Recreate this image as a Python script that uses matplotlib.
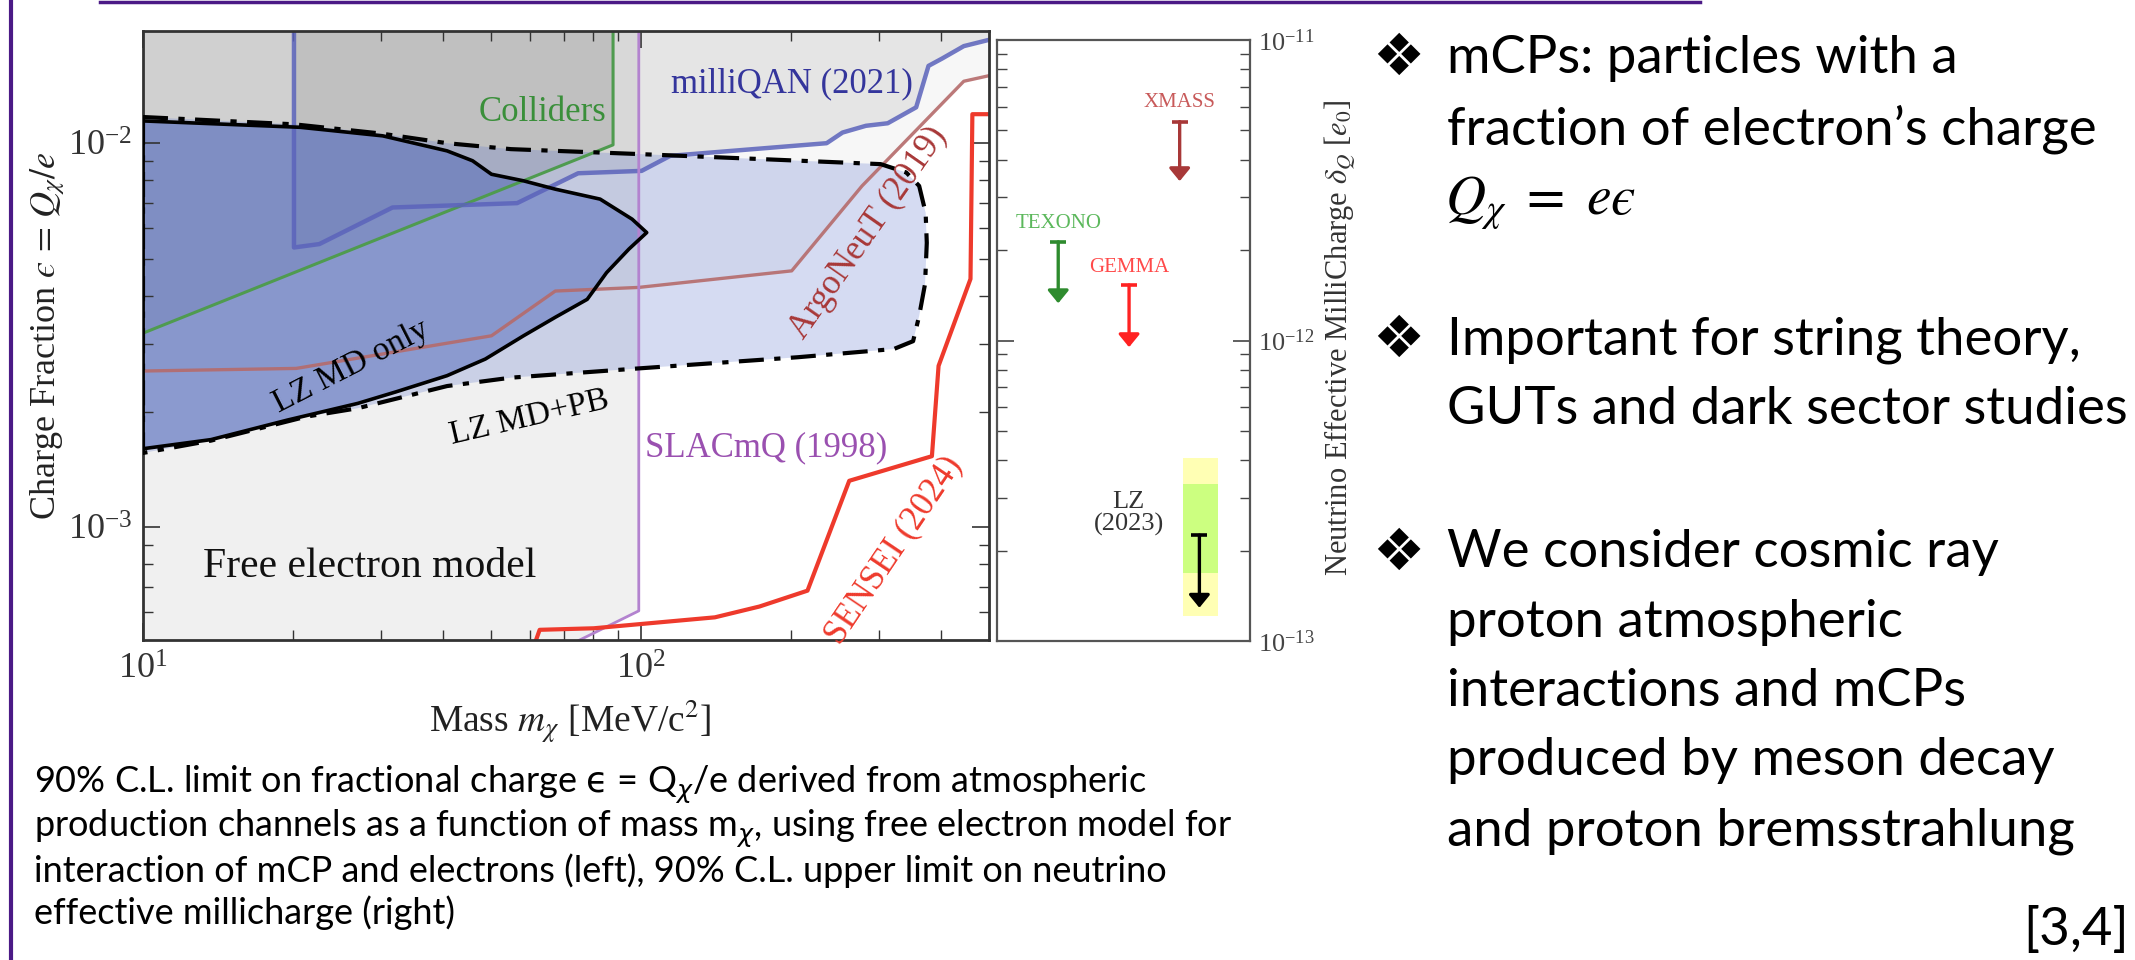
import matplotlib.pyplot as plt
from matplotlib.ticker import LogLocator, NullFormatter

plt.rcParams['mathtext.fontset'] = 'stix'
plt.rcParams['font.family'] = ['Liberation Serif', 'DejaVu Serif']

W, H = 2135, 960

# ---------------- left panel data: mass [MeV] vs charge fraction ----------------
coll_m = [10, 87.9, 87.9]
coll_eps = [3.2e-3, 9.9e-3, 3e-2]

mq_m = [20.1, 20.1, 22.6, 31.7, 56.4, 74.8, 100.3, 114.5, 236, 254, 283, 313, 357, 378, 402, 445, 501]
mq_eps = [3e-2, 5.35e-3, 5.46e-3, 6.8e-3, 6.98e-3, 8.35e-3, 8.47e-3, 9.27e-3, 1.0e-2, 1.066e-2,
          1.11e-2, 1.127e-2, 1.24e-2, 1.59e-2, 1.66e-2, 1.79e-2, 1.86e-2]

argo_m = [10, 20.3, 50.1, 67.3, 98.9, 200.8, 278, 445, 501]
argo_eps = [2.55e-3, 2.59e-3, 3.15e-3, 4.12e-3, 4.21e-3, 4.65e-3, 7.74e-3, 1.45e-2, 1.5e-2]

slac_m = [99, 99, 73.5]
slac_eps = [3e-2, 6.05e-4, 5.0e-4]

sensei_m = [61.3, 62.6, 80.4, 140.8, 173, 216, 262, 384, 396, 459, 463, 520]
sensei_eps = [5.0e-4, 5.4e-4, 5.45e-4, 5.82e-4, 6.21e-4, 6.83e-4, 1.32e-3, 1.53e-3,
              2.63e-3, 4.43e-3, 1.19e-2, 1.19e-2]

# LZ MD only (closed contour)
md_m = [10, 20.7, 30.3, 40.8, 45.9, 50.1, 58.1, 67.3, 82.8, 96, 102.7, 94.6, 85.3, 78,
        67.3, 58.1, 48.7, 40.8, 32.2, 27, 19.5, 13.7, 10]
md_eps = [1.143e-2, 1.10e-2, 1.045e-2, 9.55e-3, 9.0e-3, 8.3e-3, 7.98e-3, 7.59e-3, 7.15e-3,
          6.34e-3, 5.85e-3, 5.3e-3, 4.6e-3, 3.92e-3, 3.52e-3, 3.15e-3, 2.74e-3, 2.48e-3,
          2.25e-3, 2.10e-3, 1.90e-3, 1.69e-3, 1.60e-3]

# LZ MD+PB (closed contour)
pb_m = [10, 20.1, 30, 40.8, 54.8, 98.9, 178, 303, 341, 362, 373, 375, 372, 362, 352, 322,
        206.7, 98.9, 54.8, 40.8, 27, 21.3, 13.7, 10]
pb_eps = [1.17e-2, 1.12e-2, 1.06e-2, 1.0e-2, 9.65e-3, 9.37e-3, 9.08e-3, 8.82e-3, 8.39e-3,
          7.74e-3, 6.59e-3, 5.5e-3, 4.3e-3, 3.55e-3, 3.05e-3, 2.91e-3, 2.77e-3, 2.59e-3,
          2.45e-3, 2.33e-3, 2.04e-3, 1.94e-3, 1.68e-3, 1.56e-3]

# ---------------- right panel data: neutrino millicharge limits ----------------
nu_names = ['XMASS', 'TEXONO', 'GEMMA', 'LZ']
nu_x = [0.722, 0.242, 0.522, 0.80]
nu_top = [5.35e-12, 2.13e-12, 1.53e-12, 2.25e-13]
nu_tip = [3.39e-12, 1.33e-12, 9.5e-13, 1.29e-13]
lz_band_yellow = [1.21e-13, 4.07e-13]
lz_band_green = [1.68e-13, 3.33e-13]

fig = plt.figure(figsize=(W / 100, H / 100), dpi=100)


def fx(x):
    return x / W


def fy(y):
    return 1 - y / H


# ---------------- left panel ----------------
ax = fig.add_axes([fx(143), fy(640), fx(989 - 143), (640 - 31) / H])
ax.set_xscale('log')
ax.set_yscale('log')
ax.set_xlim(10, 500)
ax.set_ylim(5.08e-4, 1.96e-2)

# shaded excluded regions
ax.fill(slac_m + [10, 10], slac_eps + [5.08e-4, 3e-2], color='#f0f0f0', lw=0, zorder=0.5)
ax.fill(coll_m + [10], coll_eps + [3e-2], color='k', alpha=0.10, lw=0, zorder=0.6)
ax.fill(mq_m + [501], mq_eps + [3e-2], color='k', alpha=0.07, lw=0, zorder=0.7)
ax.fill(argo_m + [501, 10], argo_eps + [3e-2, 3e-2], color='k', alpha=0.03, lw=0, zorder=0.8)

# LZ regions
ax.fill(pb_m, pb_eps, color=(0.35, 0.45, 0.80), alpha=0.25, lw=0, zorder=1)
ax.fill(md_m, md_eps, color=(0.30, 0.40, 0.73), alpha=0.5, lw=0, zorder=1.1)

ax.plot(coll_m, coll_eps, color='#4f9b4f', lw=2.2, zorder=2)
ax.plot(mq_m, mq_eps, color='#5b63bb', lw=3.2, alpha=0.85, zorder=2)
ax.plot(argo_m, argo_eps, color='#b56b6b', lw=2.4, alpha=0.9, zorder=2)
ax.plot(slac_m, slac_eps, color='#b383cf', lw=2.0, zorder=2)
ax.plot(sensei_m, sensei_eps, color='#ee3a2c', lw=3.0, zorder=2)

ax.plot(pb_m + pb_m[:1], pb_eps + pb_eps[:1], color='k', lw=3.0,
        ls=(0, (6, 2.5, 1.5, 2.5)), zorder=3)
ax.plot(md_m + md_m[:1], md_eps + md_eps[:1], color='k', lw=2.6, zorder=3.1)

# labels inside the panel
ax.text(201, 1.43e-2, 'milliQAN (2021)', color='#34359c', fontsize=25, ha='center', va='center')
ax.text(63.5, 1.2e-2, 'Colliders', color='#3a8f3a', fontsize=25, ha='center', va='center')
ax.text(286, 5.83e-3, 'ArgoNeuT (2019)', color='#a83838', fontsize=25, ha='center',
        va='center', rotation=55)
ax.text(26.2, 2.61e-3, 'LZ MD only', color='k', fontsize=24, ha='center', va='center',
        rotation=27)
ax.text(59.8, 1.93e-3, 'LZ MD+PB', color='k', fontsize=24, ha='center', va='center',
        rotation=13)
ax.text(178, 1.61e-3, 'SLACmQ (1998)', color='#9a50b0', fontsize=25, ha='center', va='center')
ax.text(322, 8.7e-4, 'SENSEI (2024)', color='#ee3a2c', fontsize=25, ha='center',
        va='center', rotation=56)
ax.text(28.5, 7.87e-4, 'Free electron model', color='#111111', fontsize=30,
        ha='center', va='center')

ax.tick_params(which='both', direction='in', top=True, right=True, colors='#333333',
               labelsize=26)
ax.tick_params(which='major', length=12, width=1.2)
ax.tick_params(which='minor', length=7, width=1.0)
ax.tick_params(axis='x', pad=10)
ax.tick_params(axis='y', pad=8)
ax.yaxis.set_minor_locator(LogLocator(base=10, subs=range(2, 10)))
ax.yaxis.set_minor_formatter(NullFormatter())
ax.xaxis.set_minor_formatter(NullFormatter())
for sp in ax.spines.values():
    sp.set_linewidth(2.0)
    sp.set_color('#333333')

fig.text(fx(48), fy(336), 'Charge Fraction $\u03f5\\,=\\,Q_\\chi/e$', rotation=90,
         ha='center', va='center', fontsize=26, color='#222222')
fig.text(fx(570), fy(722), r'Mass $m_\chi$ [MeV/c$^2$]', ha='center', va='center',
         fontsize=27, color='#222222')

# ---------------- right panel ----------------
ax2 = fig.add_axes([fx(997), fy(641), fx(1250 - 997), (641 - 40) / H])
ax2.set_yscale('log')
ax2.set_ylim(1e-13, 1e-11)
ax2.set_xlim(0, 1)
ax2.set_xticks([])

ax2.fill_between([0.735, 0.872], lz_band_yellow[0], lz_band_yellow[1], color='#ffffb4', lw=0)
ax2.fill_between([0.735, 0.872], lz_band_green[0], lz_band_green[1], color='#ccff80', lw=0)

arrow_colors = ['#a83838', '#2e8b2e', '#ff2222', '#000000']
for x, top, tip, c in zip(nu_x, nu_top, nu_tip, arrow_colors):
    ax2.annotate('', xy=(x, tip), xytext=(x, top),
                 arrowprops=dict(arrowstyle='-|>,head_width=0.45,head_length=0.55',
                                 color=c, lw=2.4, shrinkA=0, shrinkB=0, mutation_scale=14))
    ax2.plot([x], [top], marker='_', ms=12, mew=2.6, color=c)

ax2.text(0.722, 6.2e-12, 'XMASS', color='#c85a5a', fontsize=15, ha='center', va='center')
ax2.text(0.242, 2.45e-12, 'TEXONO', color='#5cb85c', fontsize=15, ha='center', va='center')
ax2.text(0.522, 1.75e-12, 'GEMMA', color='#ff4a4a', fontsize=15, ha='center', va='center')
ax2.text(0.52, 2.65e-13, 'LZ\n(2023)', color='#333333', fontsize=19, ha='center',
         va='center', linespacing=1.0)

ax2.tick_params(which='both', direction='in', left=True, right=True, labelleft=False,
                labelright=True, colors='#444444', labelsize=19)
ax2.tick_params(which='major', length=12, width=1.2, pad=6)
ax2.tick_params(which='minor', length=7, width=1.0)
ax2.yaxis.set_minor_locator(LogLocator(base=10, subs=range(2, 10)))
ax2.yaxis.set_minor_formatter(NullFormatter())
for sp in ax2.spines.values():
    sp.set_linewidth(1.6)
    sp.set_color('#555555')

fig.text(fx(1340), fy(338), r'Neutrino Effective MilliCharge $\delta_Q$ [$e_0$]',
         rotation=90, ha='center', va='center', fontsize=22, color='#333333')

# ---------------- slide decorations and text ----------------
fig.add_artist(plt.Line2D([fx(100), fx(1700)], [fy(1.5), fy(1.5)], color='#4b1a86', lw=2.5))
fig.add_artist(plt.Line2D([fx(11), fx(11)], [0, 1], color='#4b1a86', lw=3))

caption = [
    '90% C.L. limit on fractional charge $\\mathrm{\u03f5}$ = Q$_{\\chi}$/e derived from atmospheric',
    r'production channels as a function of mass m$_{\chi}$, using free electron model for',
    'interaction of mCP and electrons (left), 90% C.L. upper limit on neutrino',
    'effective millicharge (right)',
]
cap_y = [785, 829, 871, 913]
for s, y in zip(caption, cap_y):
    fig.text(fx(34), fy(y), s, ha='left', va='center', fontsize=26,
             family=['Lato', 'DejaVu Sans'], math_fontfamily='dejavusans')

bullet_lines = [
    'mCPs: particles with a',
    'fraction of electron\u2019s charge',
    None,
    'Important for string theory,',
    'GUTs and dark sector studies',
    'We consider cosmic ray',
    'proton atmospheric',
    'interactions and mCPs',
    'produced by meson decay',
    'and proton bremsstrahlung',
]
bullet_y = [58, 129, 203, 340, 410, 553, 623, 692, 761, 831]
for s, y in zip(bullet_lines, bullet_y):
    if s is None:
        fig.text(fx(1445), fy(y), '$Q_\\chi\\ =\\ e\u03f5$', ha='left', va='center',
                 fontsize=40, math_fontfamily='stix')
    else:
        fig.text(fx(1447), fy(y), s, ha='left', va='center', fontsize=38,
                 family=['Lato', 'DejaVu Sans'])

for y in [58, 340, 553]:
    fig.text(fx(1398), fy(y), '\u2756', ha='center', va='center', fontsize=42,
             family=['DejaVu Sans'])

fig.text(fx(2129), fy(930), '[3,4]', ha='right', va='center', fontsize=38,
         family=['Lato', 'DejaVu Sans'])

fig.savefig('out.png', dpi=100)
